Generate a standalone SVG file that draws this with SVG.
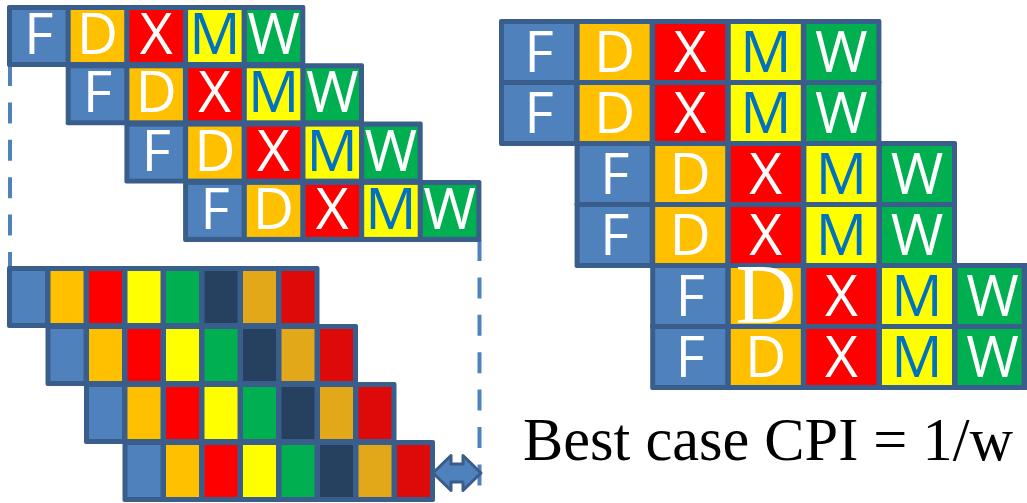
<svg xmlns="http://www.w3.org/2000/svg" width="1027" height="503" viewBox="0 0 1027 503">
<style>
.bd{fill:#3A5E8C}
.cf{fill:#4F81BD}.cd{fill:#FFC000}.cx{fill:#FF0000}.cm{fill:#FFFF00}.cw{fill:#00B050}
.cn{fill:#26405F}.cg{fill:#E2A81A}.cr{fill:#DE0A0A}
.t{font-family:"Open Sans","Noto Sans",sans-serif;font-size:57px;fill:#FFFFFF;text-anchor:middle}
.tm{fill:#0070C0}
.dash{stroke:#4F81BD;stroke-width:4;fill:none;stroke-dasharray:21 16.4}
</style>
<rect width="1027" height="503" fill="#FFFFFF"/>
<g id="connectors">
<line class="dash" x1="10" y1="65" x2="10" y2="268"/>
<line class="dash" x1="479.5" y1="240" x2="479.5" y2="486"/>
<path d="M433,473 L451,455.5 L451,464 L463,464 L463,455.5 L481,473 L463,490.5 L463,482 L451,482 L451,490.5 Z" fill="#4F81BD" stroke="#385D8A" stroke-width="3" stroke-linejoin="round"/>
</g>
<g id="tl-row1">
<rect class="bd" x="7" y="5" width="298.3" height="62" rx="2"/>
<rect class="cf" x="12" y="10" width="53.5" height="52"/><rect class="cd" x="70.7" y="10" width="53.5" height="52"/><rect class="cx" x="129.4" y="10" width="53.5" height="52"/><rect class="cm" x="188.1" y="10" width="53.5" height="52"/><rect class="cw" x="246.8" y="10" width="53.5" height="52"/>
<text class="t" x="38.75" y="54">F</text><text class="t" x="97.45" y="54">D</text><text class="t" x="156.15" y="54">X</text><text class="t tm" x="214.85" y="54">M</text><text class="t" x="273.55" y="54">W</text>
</g>
<g id="tl-row2" transform="translate(58.7,58.3)">
<rect class="bd" x="7" y="5" width="298.3" height="62" rx="2"/>
<rect class="cf" x="12" y="10" width="53.5" height="52"/><rect class="cd" x="70.7" y="10" width="53.5" height="52"/><rect class="cx" x="129.4" y="10" width="53.5" height="52"/><rect class="cm" x="188.1" y="10" width="53.5" height="52"/><rect class="cw" x="246.8" y="10" width="53.5" height="52"/>
<text class="t" x="38.75" y="54">F</text><text class="t" x="97.45" y="54">D</text><text class="t" x="156.15" y="54">X</text><text class="t tm" x="214.85" y="54">M</text><text class="t" x="273.55" y="54">W</text>
</g>
<g id="tl-row3" transform="translate(117.4,116.6)">
<rect class="bd" x="7" y="5" width="298.3" height="62" rx="2"/>
<rect class="cf" x="12" y="10" width="53.5" height="52"/><rect class="cd" x="70.7" y="10" width="53.5" height="52"/><rect class="cx" x="129.4" y="10" width="53.5" height="52"/><rect class="cm" x="188.1" y="10" width="53.5" height="52"/><rect class="cw" x="246.8" y="10" width="53.5" height="52"/>
<text class="t" x="38.75" y="54">F</text><text class="t" x="97.45" y="54">D</text><text class="t" x="156.15" y="54">X</text><text class="t tm" x="214.85" y="54">M</text><text class="t" x="273.55" y="54">W</text>
</g>
<g id="tl-row4" transform="translate(176.1,174.9)">
<rect class="bd" x="7" y="5" width="298.3" height="62" rx="2"/>
<rect class="cf" x="12" y="10" width="53.5" height="52"/><rect class="cd" x="70.7" y="10" width="53.5" height="52"/><rect class="cx" x="129.4" y="10" width="53.5" height="52"/><rect class="cm" x="188.1" y="10" width="53.5" height="52"/><rect class="cw" x="246.8" y="10" width="53.5" height="52"/>
<text class="t" x="38.75" y="54">F</text><text class="t" x="97.45" y="54">D</text><text class="t" x="156.15" y="54">X</text><text class="t tm" x="214.85" y="54">M</text><text class="t" x="273.55" y="54">W</text>
</g>
<g id="bl-row1">
<rect class="bd" x="7" y="266" width="312.5" height="62" rx="2"/>
<rect class="cf" x="12" y="271" width="33" height="52"/><rect class="cd" x="50.5" y="271" width="33" height="52"/><rect class="cx" x="89" y="271" width="33" height="52"/><rect class="cm" x="127.5" y="271" width="33" height="52"/><rect class="cw" x="166" y="271" width="33" height="52"/><rect class="cn" x="204.5" y="271" width="33" height="52"/><rect class="cg" x="243" y="271" width="33" height="52"/><rect class="cr" x="281.5" y="271" width="33" height="52"/>
</g>
<g id="bl-row2" transform="translate(38.5,58)">
<rect class="bd" x="7" y="266" width="312.5" height="62" rx="2"/>
<rect class="cf" x="12" y="271" width="33" height="52"/><rect class="cd" x="50.5" y="271" width="33" height="52"/><rect class="cx" x="89" y="271" width="33" height="52"/><rect class="cm" x="127.5" y="271" width="33" height="52"/><rect class="cw" x="166" y="271" width="33" height="52"/><rect class="cn" x="204.5" y="271" width="33" height="52"/><rect class="cg" x="243" y="271" width="33" height="52"/><rect class="cr" x="281.5" y="271" width="33" height="52"/>
</g>
<g id="bl-row3" transform="translate(77,116)">
<rect class="bd" x="7" y="266" width="312.5" height="62" rx="2"/>
<rect class="cf" x="12" y="271" width="33" height="52"/><rect class="cd" x="50.5" y="271" width="33" height="52"/><rect class="cx" x="89" y="271" width="33" height="52"/><rect class="cm" x="127.5" y="271" width="33" height="52"/><rect class="cw" x="166" y="271" width="33" height="52"/><rect class="cn" x="204.5" y="271" width="33" height="52"/><rect class="cg" x="243" y="271" width="33" height="52"/><rect class="cr" x="281.5" y="271" width="33" height="52"/>
</g>
<g id="bl-row4" transform="translate(115.5,174)">
<rect class="bd" x="7" y="266" width="312.5" height="62" rx="2"/>
<rect class="cf" x="12" y="271" width="33" height="52"/><rect class="cd" x="50.5" y="271" width="33" height="52"/><rect class="cx" x="89" y="271" width="33" height="52"/><rect class="cm" x="127.5" y="271" width="33" height="52"/><rect class="cw" x="166" y="271" width="33" height="52"/><rect class="cn" x="204.5" y="271" width="33" height="52"/><rect class="cg" x="243" y="271" width="33" height="52"/><rect class="cr" x="281.5" y="271" width="33" height="52"/>
</g>
<g id="r-row1">
<rect class="bd" x="499" y="19" width="382.4" height="66" rx="2"/>
<rect class="cf" x="504" y="24" width="70" height="56"/><rect class="cd" x="579.6" y="24" width="70" height="56"/><rect class="cx" x="655.2" y="24" width="70" height="56"/><rect class="cm" x="730.8" y="24" width="70" height="56"/><rect class="cw" x="806.4" y="24" width="70" height="56"/>
<text class="t" x="539" y="72">F</text><text class="t" x="614.6" y="72">D</text><text class="t" x="690.2" y="72">X</text><text class="t tm" x="765.8" y="72">M</text><text class="t" x="841.4" y="72">W</text>
</g>
<g id="r-row2" transform="translate(0,61)">
<rect class="bd" x="499" y="19" width="382.4" height="66" rx="2"/>
<rect class="cf" x="504" y="24" width="70" height="56"/><rect class="cd" x="579.6" y="24" width="70" height="56"/><rect class="cx" x="655.2" y="24" width="70" height="56"/><rect class="cm" x="730.8" y="24" width="70" height="56"/><rect class="cw" x="806.4" y="24" width="70" height="56"/>
<text class="t" x="539" y="72">F</text><text class="t" x="614.6" y="72">D</text><text class="t" x="690.2" y="72">X</text><text class="t tm" x="765.8" y="72">M</text><text class="t" x="841.4" y="72">W</text>
</g>
<g id="r-row3" transform="translate(75.6,122)">
<rect class="bd" x="499" y="19" width="382.4" height="66" rx="2"/>
<rect class="cf" x="504" y="24" width="70" height="56"/><rect class="cd" x="579.6" y="24" width="70" height="56"/><rect class="cx" x="655.2" y="24" width="70" height="56"/><rect class="cm" x="730.8" y="24" width="70" height="56"/><rect class="cw" x="806.4" y="24" width="70" height="56"/>
<text class="t" x="539" y="72">F</text><text class="t" x="614.6" y="72">D</text><text class="t" x="690.2" y="72">X</text><text class="t tm" x="765.8" y="72">M</text><text class="t" x="841.4" y="72">W</text>
</g>
<g id="r-row4" transform="translate(75.6,183)">
<rect class="bd" x="499" y="19" width="382.4" height="66" rx="2"/>
<rect class="cf" x="504" y="24" width="70" height="56"/><rect class="cd" x="579.6" y="24" width="70" height="56"/><rect class="cx" x="655.2" y="24" width="70" height="56"/><rect class="cm" x="730.8" y="24" width="70" height="56"/><rect class="cw" x="806.4" y="24" width="70" height="56"/>
<text class="t" x="539" y="72">F</text><text class="t" x="614.6" y="72">D</text><text class="t" x="690.2" y="72">X</text><text class="t tm" x="765.8" y="72">M</text><text class="t" x="841.4" y="72">W</text>
</g>
<g id="r-row5" transform="translate(151.2,244)">
<rect class="bd" x="499" y="19" width="382.4" height="66" rx="2"/>
<rect class="cf" x="504" y="24" width="70" height="56"/><rect class="cd" x="579.6" y="24" width="70" height="56"/><rect class="cx" x="655.2" y="24" width="70" height="56"/><rect class="cm" x="730.8" y="24" width="70" height="56"/><rect class="cw" x="806.4" y="24" width="64" height="56"/>
<text class="t" x="539" y="72">F</text><text x="614.6" y="79" font-family="'Liberation Serif',serif" font-size="84" fill="#FFFFFF" text-anchor="middle">D</text><text class="t" x="690.2" y="72">X</text><text class="t tm" x="765.8" y="72">M</text><text class="t" x="841.4" y="72">W</text>
</g>
<g id="r-row6" transform="translate(151.2,305)">
<rect class="bd" x="499" y="19" width="382.4" height="66" rx="2"/>
<rect class="cf" x="504" y="24" width="70" height="56"/><rect class="cd" x="579.6" y="24" width="70" height="56"/><rect class="cx" x="655.2" y="24" width="70" height="56"/><rect class="cm" x="730.8" y="24" width="70" height="56"/><rect class="cw" x="806.4" y="24" width="64" height="56"/>
<text class="t" x="539" y="72">F</text><text class="t" x="614.6" y="72">D</text><text class="t" x="690.2" y="72">X</text><text class="t tm" x="765.8" y="72">M</text><text class="t" x="841.4" y="72">W</text>
</g>
<g id="caption">
<text x="523" y="460" font-family="'Liberation Serif',serif" font-size="61" fill="#000000" textLength="490" lengthAdjust="spacingAndGlyphs">Best case CPI = 1/w</text>
</g>
</svg>
